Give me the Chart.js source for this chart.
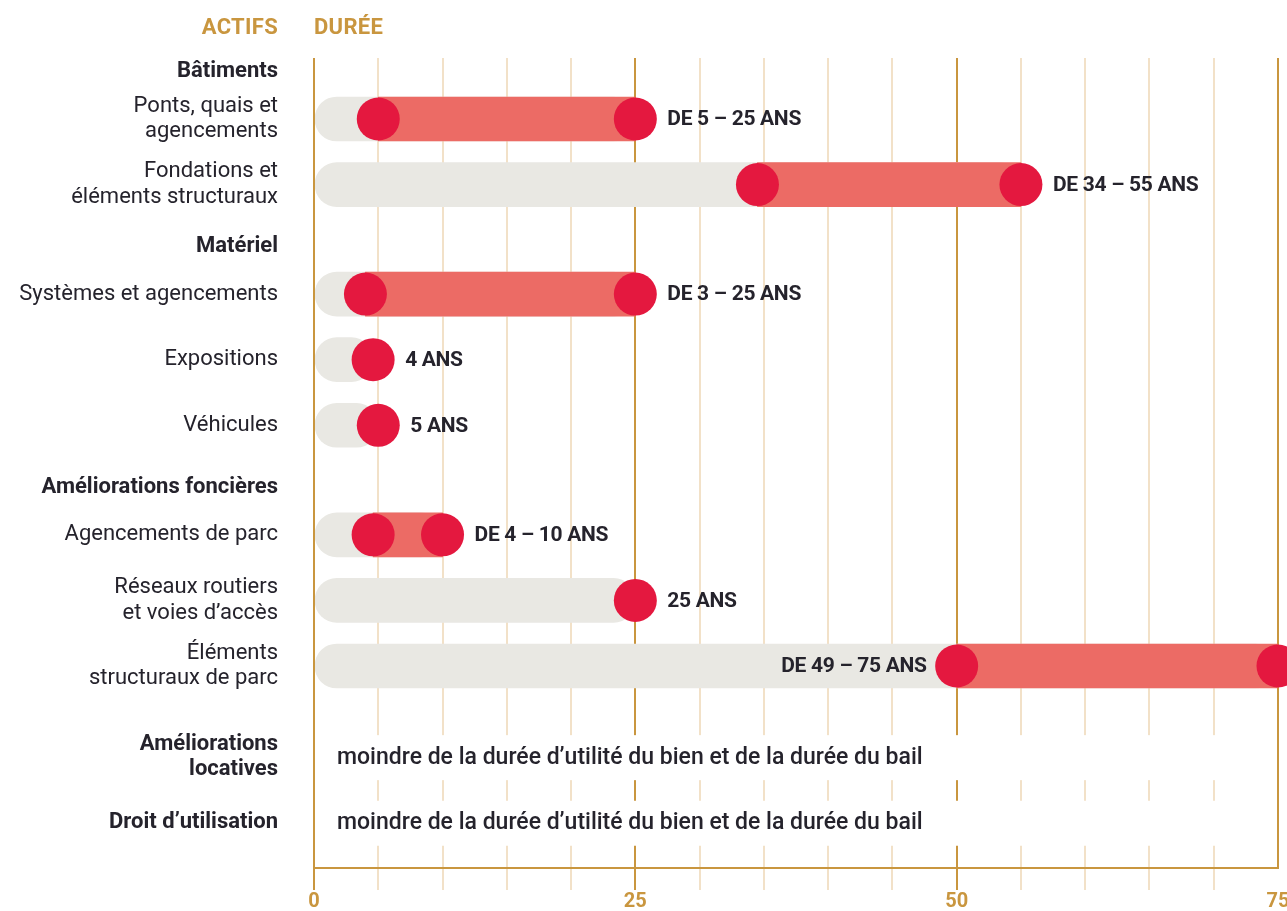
<!DOCTYPE html>
<html lang="fr">
<head>
<meta charset="UTF-8">
<title>Durée d'utilité des actifs</title>
<script src="https://cdn.jsdelivr.net/npm/chart.js"></script>
<style>
  body { margin: 0; background: #fff; }
  .wrap { position: relative; width: 1287px; height: 911px; }
</style>
</head>
<body>
<div class="wrap"><canvas id="dureeChart"></canvas></div>
<script>
// --- données ---
const actifs = [
  'Bâtiments',
  ['Ponts, quais et', 'agencements'],
  ['Fondations et', 'éléments structuraux'],
  'Matériel',
  'Systèmes et agencements',
  'Expositions',
  'Véhicules',
  'Améliorations foncières',
  'Agencements de parc',
  ['Réseaux routiers', 'et voies d’accès'],
  ['Éléments', 'structuraux de parc'],
  ['Améliorations', 'locatives'],
  'Droit d’utilisation'
];
const typesLignes = ['groupe', 'actif', 'actif', 'groupe', 'actif', 'actif', 'actif',
                     'groupe', 'actif', 'actif', 'actif', 'note', 'note'];
const dureeMin = [null, 5, 34.5, null, 4, null, null, null, 4.6, null, 50, null, null];
const dureeMax = [null, 25, 55, null, 25, 4.6, 5, null, 10, 25, 75, null, null];
const dureeTextes = [null, 'DE 5 – 25 ANS', 'DE 34 – 55 ANS', null, 'DE 3 – 25 ANS', '4 ANS', '5 ANS',
  null, 'DE 4 – 10 ANS', '25 ANS', 'DE 49 – 75 ANS',
  'moindre de la durée d’utilité du bien et de la durée du bail',
  'moindre de la durée d’utilité du bien et de la durée du bail'];
const graduations = [0, 25, 50, 75];
const entetes = ['ACTIFS', 'DURÉE'];

const OR = '#c9963f';
const OR_CLAIR = '#f2e1c8';
const GRIS = '#e9e8e3';
const ROUGE = '#ec6b65';
const POINT = '#e4183f';
const ENCRE = '#25232c';
const POLICE = 'Roboto';

// espacement vertical des lignes (en unités de ligne)
function ecart(i) {
  const prev = typesLignes[i - 1], cur = typesLignes[i];
  if (prev === 'groupe') return 0.72;
  if (cur === 'groupe') return 0.95;
  if (cur === 'note' && prev === 'actif') return 1.39;
  return 1;
}
const lignesY = [];
typesLignes.forEach((t, i) => lignesY.push(i === 0 ? 0 : lignesY[i - 1] + ecart(i)));

const fonds = [], plages = [], points = [];
dureeMax.forEach((max, i) => {
  if (max === null) return;
  fonds.push({ x: [0, max], y: lignesY[i] });
  points.push({ x: max, y: lignesY[i] });
  if (dureeMin[i] !== null) {
    plages.push({ x: [dureeMin[i], max], y: lignesY[i] });
    points.push({ x: dureeMin[i], y: lignesY[i] });
  }
});

const annotations = {
  id: 'annotations',
  beforeDatasetsDraw(chart) {
    const { ctx, scales: { x, y } } = chart;
    ctx.save();
    ctx.fillStyle = '#fff';
    typesLignes.forEach((t, i) => {
      if (t !== 'note') return;
      const py = y.getPixelForValue(lignesY[i]);
      const x0 = x.getPixelForValue(0) + 1.5, x1 = x.getPixelForValue(75) - 1.5;
      ctx.fillRect(x0, py - 22, x1 - x0, 45);
    });
    ctx.restore();
  },
  afterDatasetsDraw(chart) {
    const { ctx, scales: { x, y }, chartArea } = chart;
    ctx.save();
    const x0 = x.getPixelForValue(0);
    ctx.strokeStyle = OR;
    ctx.lineWidth = 2;
    ctx.beginPath();
    ctx.moveTo(x0, chartArea.top);
    ctx.lineTo(x0, chartArea.bottom + 22);
    ctx.stroke();

    ctx.textBaseline = 'middle';
    ctx.fillStyle = ENCRE;
    dureeTextes.forEach((t, i) => {
      if (!t) return;
      const py = y.getPixelForValue(lignesY[i]) + 1;
      if (typesLignes[i] === 'note') {
        ctx.letterSpacing = '0px';
        ctx.font = '500 23px ' + POLICE;
        ctx.textAlign = 'left';
        ctx.fillText(t, x0 + 23, py);
        return;
      }
      ctx.letterSpacing = '-0.3px';
      ctx.font = 'bold 21px ' + POLICE;
      const px = x.getPixelForValue(dureeMax[i]) + 32;
      if (px + ctx.measureText(t).width > chart.width) {
        ctx.textAlign = 'right';
        ctx.fillText(t, x.getPixelForValue(dureeMin[i]) - 30, py);
      } else {
        ctx.textAlign = 'left';
        ctx.fillText(t, px, py);
      }
    });

    ctx.letterSpacing = '0.3px';
    ctx.font = 'bold 22px ' + POLICE;
    ctx.fillStyle = OR;
    ctx.textAlign = 'right';
    ctx.fillText(entetes[0], x0 - 36, 28);
    ctx.textAlign = 'left';
    ctx.fillText(entetes[1], x0, 28);
    ctx.restore();
  }
};

new Chart(document.getElementById('dureeChart'), {
  type: 'bar',
  data: {
    datasets: [
      {
        type: 'scatter',
        data: points,
        backgroundColor: POINT,
        borderWidth: 0,
        pointRadius: 21.5,
        pointHoverRadius: 21.5,
        clip: false,
        order: 1
      },
      {
        data: plages,
        indexAxis: 'y',
        backgroundColor: ROUGE,
        barThickness: 44,
        grouped: false,
        order: 2
      },
      {
        data: fonds,
        indexAxis: 'y',
        backgroundColor: GRIS,
        barThickness: 44,
        borderRadius: 22,
        borderSkipped: false,
        grouped: false,
        order: 3
      }
    ]
  },
  options: {
    responsive: true,
    maintainAspectRatio: false,
    animation: false,
    events: [],
    layout: { autoPadding: false, padding: { top: 58, right: 9, left: 0, bottom: 0 } },
    plugins: { legend: { display: false }, tooltip: { enabled: false } },
    scales: {
      x: {
        type: 'linear',
        position: 'bottom',
        offset: false,
        min: 0,
        max: 75,
        border: { display: true, color: OR, width: 2 },
        grid: {
          offset: false,
          color: c => (c.tick && c.tick.value % 25 === 0) ? OR : OR_CLAIR,
          tickColor: c => (c.tick && c.tick.value === 75) ? 'rgba(0,0,0,0)' :
            ((c.tick && c.tick.value % 25 === 0) ? OR : OR_CLAIR),
          lineWidth: 2,
          tickLength: 22
        },
        ticks: {
          stepSize: 5,
          autoSkip: false,
          maxRotation: 0,
          padding: 0,
          color: OR,
          font: { family: POLICE, size: 20, weight: 'bold' },
          callback: v => graduations.includes(v) ? String(v) : ''
        },
        afterFit(scale) {
          scale.height = 43;
          scale.paddingLeft = 0;
          scale.paddingRight = 0;
        }
      },
      y: {
        type: 'linear',
        position: 'left',
        reverse: true,
        offset: false,
        min: lignesY[0] - 0.21,
        max: lignesY[lignesY.length - 1] + 0.69,
        grid: { display: false, drawTicks: false, offset: false },
        border: { display: false },
        afterBuildTicks(scale) {
          scale.ticks = lignesY.map(v => ({ value: v }));
        },
        ticks: {
          autoSkip: false,
          padding: 36,
          color: ENCRE,
          font: c => ({
            family: POLICE,
            size: 22,
            lineHeight: 1.15,
            weight: typesLignes[c.index] === 'actif' ? 'normal' : 'bold'
          }),
          callback: (v, i) => actifs[i]
        },
        afterFit(scale) {
          scale.width = 314;
          scale.paddingTop = 0;
          scale.paddingBottom = 0;
        }
      }
    }
  },
  plugins: [annotations]
});
</script>
</body>
</html>
